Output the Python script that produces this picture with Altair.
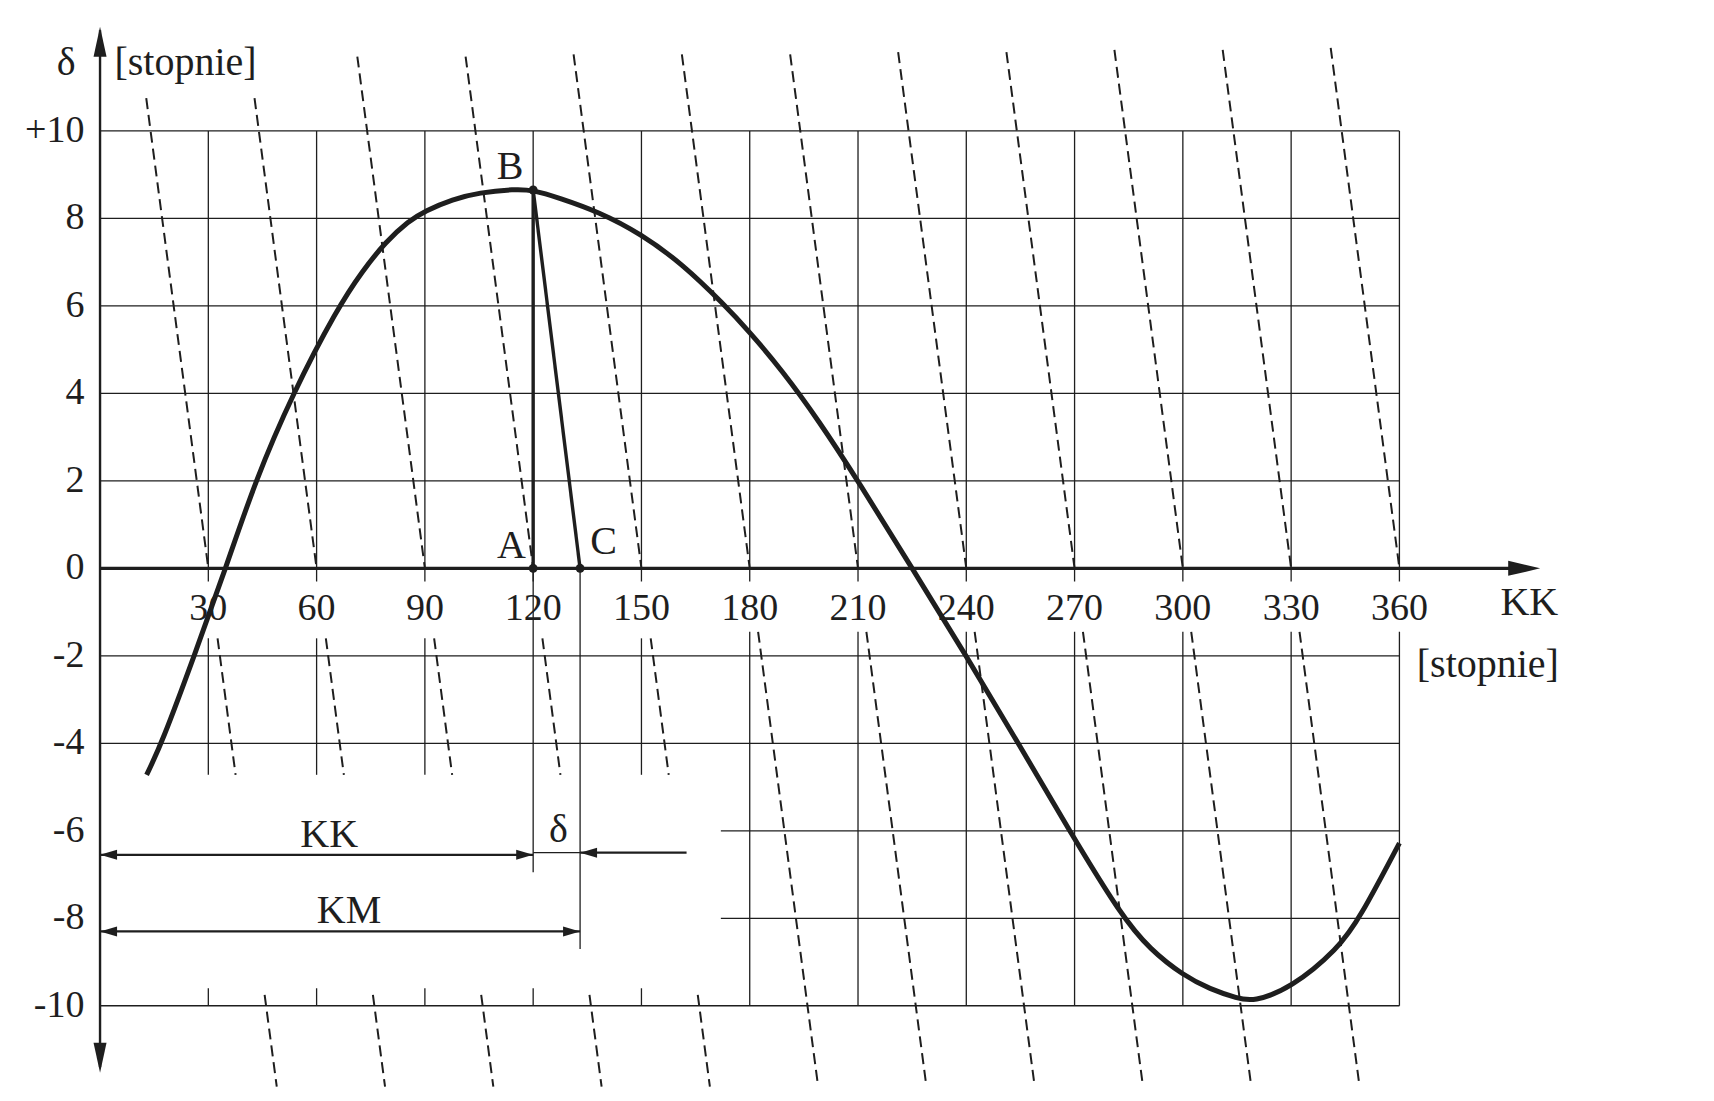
import altair as alt
import pandas as pd

# ---------------- data ----------------
KK_CURVE = [12.9, 17.1, 26.1, 34.8, 43.0, 53.4, 65.8, 72.7, 79.2, 85.5, 90, 97.7, 105, 114.9,
            120, 127.1, 138.2, 150, 161.3, 172.8, 180, 189, 199.1, 210, 225, 240, 254.4,
            268.6, 283, 291, 300, 307.5, 315.2, 319.4, 330, 343, 349, 360]
DELTA_CURVE = [-4.72, -4.0, -2.0, 0.0, 2.0, 4.0, 5.95, 6.8, 7.47, 7.94, 8.17, 8.44, 8.59, 8.67,
               8.65, 8.47, 8.15, 7.64, 6.96, 6.04, 5.4, 4.52, 3.38, 2.0, 0.0, -2.0, -4.0,
               -6.0, -7.95, -8.72, -9.3, -9.62, -9.83, -9.91, -9.6, -8.7, -8.0, -6.28]

KK_TICKS = [30, 60, 90, 120, 150, 180, 210, 240, 270, 300, 330, 360]
DELTA_TICKS = [10, 8, 6, 4, 2, 0, -2, -4, -6, -8, -10]
DELTA_LABELS = ["+10", "8", "6", "4", "2", "0", "-2", "-4", "-6", "-8", "-10"]

# dashed KM = const lines: crossing of delta = 0 and their visible top ends
DASH_CROSS = [30, 60, 90, 120, 150, 180, 210, 240, 270, 300, 330, 360]
DASH_TOP = [10.75, 10.75, 11.7, 11.7, 11.75, 11.75, 11.75, 11.8, 11.8, 11.85, 11.85, 11.9]
DASH_SLOPE = 1.6  # degrees of KK per unit of delta

# construction example
KK_A = 120
DELTA_B = 8.65
KM_C = 133

INK = "#1e1e1e"
SERIF = "Liberation Serif"

# ---------------- geometry tables ----------------
def seg(rows, x, y, x2, y2):
    rows.append({"x": x, "y": y, "x2": x2, "y2": y2})

grid = []
for k in KK_TICKS:
    seg(grid, k, 10, k, -0.3)
for k in [30, 60, 90, 150]:
    seg(grid, k, -1.6, k, -4.72)
for k in [180, 210, 240, 270, 300, 330, 360]:
    seg(grid, k, -1.45, k, -10)
for k in [30, 60, 90, 120, 150]:
    seg(grid, k, -10, k, -9.6)
for d in [10, 8, 6, 4, 2, -2, -4, -10]:
    seg(grid, 0, d, 360, d)
for d in [-6, -8]:
    seg(grid, 172, d, 360, d)
seg(grid, KK_A, 0, KK_A, -6.95)
seg(grid, KM_C, 0, KM_C, -8.7)
seg(grid, KK_A, -6.5, KM_C, -6.5)
grid_df = pd.DataFrame(grid)

arrows = []
seg(arrows, 0, -6.55, KK_A, -6.55)
seg(arrows, KM_C, -6.5, 162.5, -6.5)
seg(arrows, 0, -8.3, KM_C, -8.3)
arrows_df = pd.DataFrame(arrows)

yaxis_df = pd.DataFrame([{"x": 0, "y": 12.3, "x2": 0, "y2": -11.4}])
xaxis_df = pd.DataFrame([{"x": 0, "y": 0, "x2": 396, "y2": 0}])

dash = []
for c, top in zip(DASH_CROSS, DASH_TOP):
    pieces = [(top, 0)]
    if c <= 150:
        pieces += [(-1.6, -4.72), (-9.75, -11.85)]
    elif c < 360:
        pieces += [(-1.45, -11.85)]
    for a, b in pieces:
        seg(dash, c - DASH_SLOPE * a, a, c - DASH_SLOPE * b, b)
dash_df = pd.DataFrame(dash)

constr = []
seg(constr, KK_A, DELTA_B, KK_A, 0)
seg(constr, KK_A, DELTA_B, KM_C, 0)
constr_df = pd.DataFrame(constr)

curve_df = pd.DataFrame({"kk": KK_CURVE, "delta": DELTA_CURVE})
dots_df = pd.DataFrame({"x": [KK_A, KK_A, KM_C], "y": [DELTA_B, 0, 0]})

RIGHT = "M0,0 L-3.4,-1 L-3.4,1 Z"
LEFT = "M0,0 L3.4,-1 L3.4,1 Z"
UP = "M0,0 L-1.3,6 L1.3,6 Z"
DOWN = "M0,0 L-1.3,-6 L1.3,-6 Z"
BIGRIGHT = "M0,0 L-6.4,-1.5 L-6.4,1.5 Z"
heads_df = pd.DataFrame([
    {"x": 0, "y": 12.38, "s": UP},
    {"x": 0, "y": -11.53, "s": DOWN},
    {"x": 399, "y": 0, "s": BIGRIGHT},
    {"x": 0, "y": -6.55, "s": LEFT},
    {"x": KK_A, "y": -6.55, "s": RIGHT},
    {"x": KM_C, "y": -6.5, "s": LEFT},
    {"x": 0, "y": -8.3, "s": LEFT},
    {"x": KM_C, "y": -8.3, "s": RIGHT},
])

xlab_df = pd.DataFrame({"x": KK_TICKS, "y": [-0.93] * len(KK_TICKS), "t": [str(k) for k in KK_TICKS]})
ylab_df = pd.DataFrame({"x": [-4.3] * len(DELTA_TICKS), "y": DELTA_TICKS, "t": DELTA_LABELS})
words_df = pd.DataFrame([
    {"x": -9.4, "y": 11.55, "t": "δ", "a": "center"},
    {"x": 4.0, "y": 11.55, "t": "[stopnie]", "a": "left"},
    {"x": 396, "y": -0.8, "t": "KK", "a": "center"},
    {"x": 384.5, "y": -2.2, "t": "[stopnie]", "a": "center"},
    {"x": 113.6, "y": 9.18, "t": "B", "a": "center"},
    {"x": 114.0, "y": 0.5, "t": "A", "a": "center"},
    {"x": 139.5, "y": 0.6, "t": "C", "a": "center"},
    {"x": 63.5, "y": -6.1, "t": "KK", "a": "center"},
    {"x": 127.0, "y": -5.98, "t": "δ", "a": "center"},
    {"x": 69.0, "y": -7.83, "t": "KM", "a": "center"},
])

# ---------------- scales ----------------
XS = alt.Scale(domain=[-25.5, 443], nice=False, zero=False)
YS = alt.Scale(domain=[-11.88, 12.81], nice=False, zero=False)


def rules(df, **kw):
    return alt.Chart(df).mark_rule(color=INK, **kw).encode(
        x=alt.X("x:Q", scale=XS, axis=None),
        y=alt.Y("y:Q", scale=YS, axis=None),
        x2="x2:Q",
        y2="y2:Q",
    )


grid_layer = rules(grid_df, strokeWidth=1.3)
dash_layer = rules(dash_df, strokeWidth=2.0, strokeDash=[11, 6])
arrow_layer = rules(arrows_df, strokeWidth=2.2)
yaxis_layer = rules(yaxis_df, strokeWidth=2.4)
xaxis_layer = rules(xaxis_df, strokeWidth=3.2)
constr_layer = rules(constr_df, strokeWidth=3.4)

curve_layer = alt.Chart(curve_df).mark_line(
    color=INK, strokeWidth=5, interpolate="basis"
).encode(
    x=alt.X("kk:Q", scale=XS, axis=None),
    y=alt.Y("delta:Q", scale=YS, axis=None),
)

dots_layer = alt.Chart(dots_df).mark_circle(color=INK, size=80, opacity=1).encode(
    x=alt.X("x:Q", scale=XS, axis=None),
    y=alt.Y("y:Q", scale=YS, axis=None),
)

heads_layer = alt.Chart(heads_df).mark_point(
    filled=True, color=INK, size=100, opacity=1, strokeWidth=0
).encode(
    x=alt.X("x:Q", scale=XS, axis=None),
    y=alt.Y("y:Q", scale=YS, axis=None),
    shape=alt.Shape("s:N", scale=None, legend=None),
)

xlab_layer = alt.Chart(xlab_df).mark_text(
    font=SERIF, fontSize=38, color=INK, align="center", baseline="middle"
).encode(
    x=alt.X("x:Q", scale=XS, axis=None),
    y=alt.Y("y:Q", scale=YS, axis=None),
    text="t:N",
)

ylab_layer = alt.Chart(ylab_df).mark_text(
    font=SERIF, fontSize=38, color=INK, align="right", baseline="middle"
).encode(
    x=alt.X("x:Q", scale=XS, axis=None),
    y=alt.Y("y:Q", scale=YS, axis=None),
    text="t:N",
)

word_layers = []
for al in ["left", "center"]:
    sub = words_df[words_df["a"] == al]
    word_layers.append(
        alt.Chart(sub).mark_text(
            font=SERIF, fontSize=40, color=INK, align=al, baseline="middle"
        ).encode(
            x=alt.X("x:Q", scale=XS, axis=None),
            y=alt.Y("y:Q", scale=YS, axis=None),
            text="t:N",
        )
    )

chart = alt.layer(
    grid_layer, dash_layer, arrow_layer, yaxis_layer, xaxis_layer,
    curve_layer, constr_layer, dots_layer, heads_layer,
    xlab_layer, ylab_layer, *word_layers,
).properties(
    width=1691, height=1080, padding=0, background="white"
).configure_view(stroke=None)

chart.save("out.html", embed_options={"renderer": "svg", "actions": False})
